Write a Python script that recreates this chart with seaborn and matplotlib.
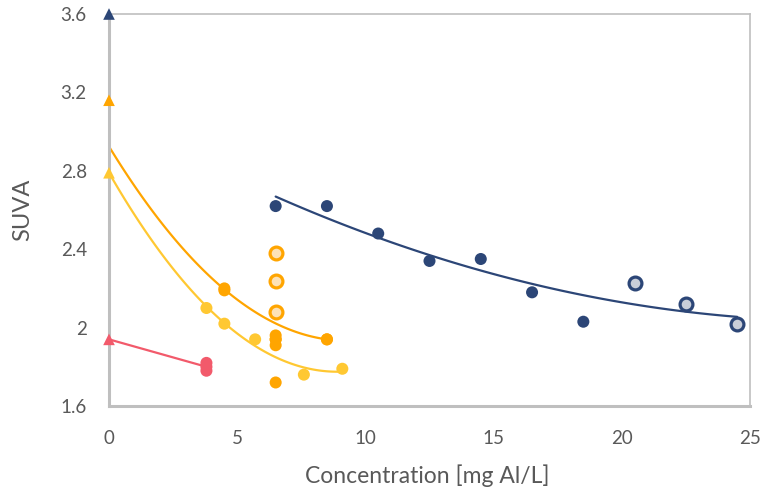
import matplotlib
matplotlib.use("Agg")
import matplotlib.pyplot as plt
import seaborn as sns
import numpy as np
import pandas as pd
from matplotlib.ticker import MultipleLocator

# navy series
navy_x = [6.5, 8.5, 10.5, 12.5, 14.5, 16.5, 18.5]
navy_y = [2.62, 2.62, 2.48, 2.34, 2.35, 2.18, 2.03]
navy_open_x = [20.5, 22.5, 24.5]
navy_open_y = [2.23, 2.12, 2.02]
navy_tri = [0, 3.6]

# orange series (overlapping duplicates at 4.5, 6.5 and 8.5)
orange_x = [4.5, 4.5, 6.5, 6.5, 6.5, 6.5, 6.5, 8.5, 8.5]
orange_y = [2.20, 2.19, 1.96, 1.94, 1.94, 1.91, 1.72, 1.94, 1.94]
orange_open_x = [6.5, 6.5, 6.5]
orange_open_y = [2.38, 2.24, 2.08]
orange_tri = [0, 3.16]

# yellow series
yellow_x = [3.8, 4.5, 5.7, 7.6, 9.1]
yellow_y = [2.10, 2.02, 1.94, 1.76, 1.79]
yellow_tri = [0, 2.79]

# red series
red_x = [3.8, 3.8, 3.8]
red_y = [1.82, 1.80, 1.78]
red_tri = [0, 1.94]

NAVY = "#2c4677"
ORANGE = "#ffa500"
YELLOW = "#ffc832"
RED = "#f25a6b"
GRID = "#bfbfbf"
TXT = "#595959"

sns.set_style("white")
plt.rcParams["font.family"] = ["Lato", "DejaVu Sans"]

fig = plt.figure(figsize=(7.61, 4.92), dpi=100)
ax = fig.add_axes([109 / 761, 1 - 406 / 492, 641 / 761, 392 / 492])

def fit(xs, ys, color, order):
    d = pd.DataFrame({"x": xs, "y": ys})
    sns.regplot(data=d, x="x", y="y", order=order, ci=None, scatter=False,
                truncate=True, ax=ax, line_kws={"color": color, "lw": 1.6})

# trend lines
fit(navy_x + navy_open_x, navy_y + navy_open_y, NAVY, 2)
fit([yellow_tri[0]] + yellow_x, [yellow_tri[1]] + yellow_y, YELLOW, 2)
fit([red_tri[0]] + red_x, [red_tri[1]] + red_y, RED, 1)

# orange trend: fitted on the circles, forecast back to zero dose
ox = np.array(orange_x + orange_open_x)
oy = np.array(orange_y + orange_open_y)
coef = np.polyfit(ox, oy, 2)
xx = np.linspace(orange_tri[0], ox.max(), 100)
ax.plot(xx, np.polyval(coef, xx), color=ORANGE, lw=1.6)

# filled markers
for xs, ys, c in [(navy_x, navy_y, NAVY), (orange_x, orange_y, ORANGE),
                  (yellow_x, yellow_y, YELLOW), (red_x, red_y, RED)]:
    sns.scatterplot(x=xs, y=ys, color=c, s=75, edgecolor="none", ax=ax, zorder=3)

# open markers
sns.scatterplot(x=navy_open_x, y=navy_open_y, color="#c9ced9", edgecolor=NAVY,
                linewidth=2.3, s=85, ax=ax, zorder=3)
sns.scatterplot(x=orange_open_x, y=orange_open_y, color="#fde2b6", edgecolor=ORANGE,
                linewidth=2.3, s=85, ax=ax, zorder=3)

# raw water triangles
for t, c in [(navy_tri, NAVY), (orange_tri, ORANGE), (yellow_tri, YELLOW), (red_tri, RED)]:
    ax.scatter([t[0]], [t[1]], marker="^", s=70, color=c, edgecolor="none",
               zorder=4, clip_on=False)

ax.set_xlim(0, 25)
ax.set_ylim(1.6, 3.6)
ax.xaxis.set_minor_locator(MultipleLocator(2.5))
ax.yaxis.set_minor_locator(MultipleLocator(0.2))
ax.set_yticks([1.6, 2.0, 2.4, 2.8, 3.2, 3.6])
ax.set_yticklabels(["1.6", "2", "2.4", "2.8", "3.2", "3.6"])
ax.set_xticks([0, 5, 10, 15, 20, 25])
ax.set_xticklabels(["0", "5", "10", "15", "20", "25"])

ax.tick_params(which="both", direction="in", color=GRID, width=1.2, length=6,
               labelcolor=TXT, labelsize=13.5)
ax.tick_params(axis="x", which="major", pad=17)
ax.tick_params(axis="y", which="major", pad=16)

for side in ["left", "bottom"]:
    ax.spines[side].set_color(GRID)
    ax.spines[side].set_linewidth(2.2)
for side in ["top", "right"]:
    ax.spines[side].set_color(GRID)
    ax.spines[side].set_linewidth(1.2)

ax.set_xlabel("Concentration [mg Al/L]", color=TXT, fontsize=16.5)
ax.set_ylabel("SUVA", color=TXT, fontsize=17)
ax.xaxis.set_label_coords(0.497, -0.148)
ax.yaxis.set_label_coords(-0.118, 0.5)

fig.savefig("out.png", dpi=100)
